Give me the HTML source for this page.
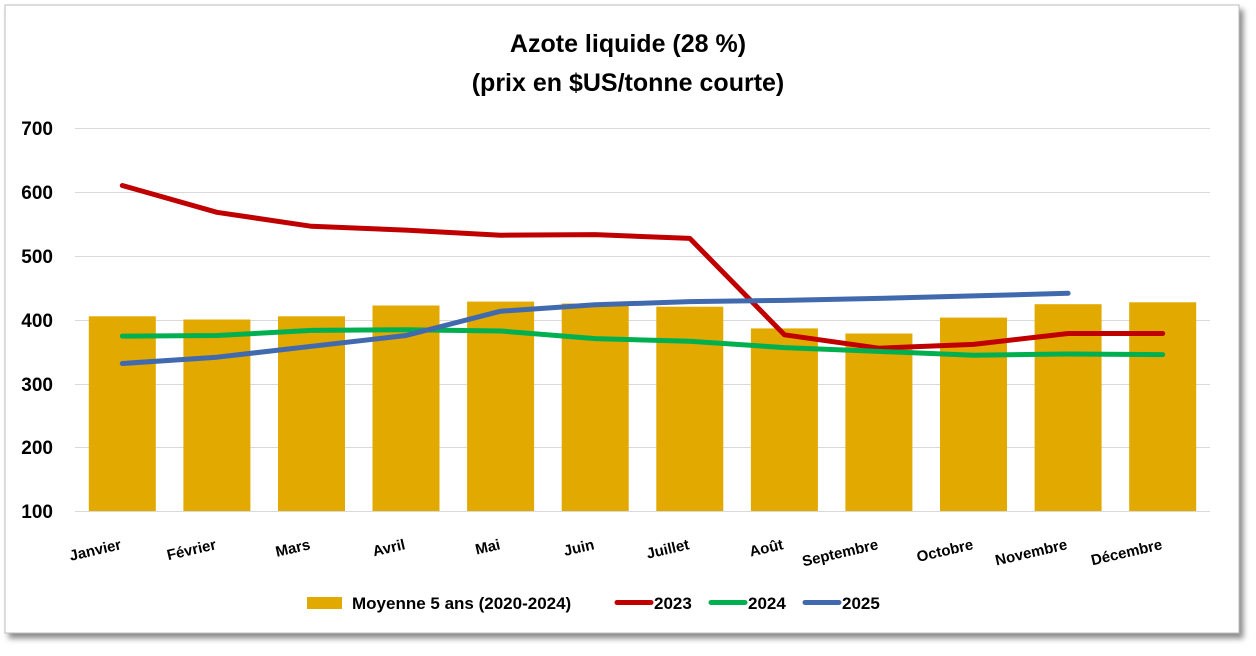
<!DOCTYPE html>
<html><head><meta charset="utf-8"><style>
html,body{margin:0;padding:0;background:#fff;}
svg{display:block;font-family:"Liberation Sans",Calibri,sans-serif;}
</style></head><body>
<svg width="1256" height="656" viewBox="0 0 1256 656" xmlns="http://www.w3.org/2000/svg">
<defs><filter id="sh" x="-5%" y="-5%" width="110%" height="115%"><feDropShadow dx="4" dy="5" stdDeviation="3" flood-color="#000" flood-opacity="0.45"/></filter></defs>
<rect x="5" y="5" width="1234" height="628" fill="#fff" stroke="#bbb" filter="url(#sh)"/>
<text x="628" y="52" text-anchor="middle" font-size="25" font-weight="bold">Azote liquide (28 %)</text>
<text x="628" y="91" text-anchor="middle" font-size="25" font-weight="bold">(prix en $US/tonne courte)</text>
<g stroke="#d9d9d9" stroke-width="1">
<line x1="75" x2="1210" y1="128.5" y2="128.5"/><line x1="75" x2="1210" y1="192.5" y2="192.5"/>
<line x1="75" x2="1210" y1="256.5" y2="256.5"/><line x1="75" x2="1210" y1="320.5" y2="320.5"/>
<line x1="75" x2="1210" y1="384.5" y2="384.5"/><line x1="75" x2="1210" y1="447.5" y2="447.5"/>
<line x1="75" x2="1210" y1="511.5" y2="511.5"/></g>
<g font-size="19" font-weight="bold" text-anchor="end">
<text x="53" y="135">700</text><text x="53" y="199">600</text><text x="53" y="263">500</text>
<text x="53" y="327">400</text><text x="53" y="391">300</text><text x="53" y="454">200</text><text x="53" y="518">100</text></g>
<g fill="#E2A900">
<rect x="88.8" y="316.3" width="67" height="194.7"/><rect x="183.4" y="319.5" width="67" height="191.5"/>
<rect x="278" y="316.3" width="67" height="194.7"/><rect x="372.5" y="305.5" width="67" height="205.5"/>
<rect x="467.1" y="301.6" width="67" height="209.4"/><rect x="561.7" y="303.5" width="67" height="207.5"/>
<rect x="656.3" y="306.7" width="67" height="204.3"/><rect x="750.9" y="328.4" width="67" height="182.6"/>
<rect x="845.4" y="333.5" width="67" height="177.5"/><rect x="940" y="317.6" width="67" height="193.4"/>
<rect x="1034.6" y="304.2" width="67" height="206.8"/><rect x="1129.2" y="302.3" width="67" height="208.7"/></g>
<g fill="none" stroke-width="5" stroke-linejoin="round" stroke-linecap="round">
<polyline stroke="#C00000" points="122.3,185.5 216.9,212.3 311.5,226.3 406,230.1 500.6,235.2 595.2,234.6 689.8,238.4 784.4,334.8 878.9,348.2 973.5,344.4 1068.1,333.5 1162.7,333.5"/>
<polyline stroke="#00B050" points="122.3,336.1 216.9,335.5 311.5,330.4 406,329.7 500.6,331 595.2,338.6 689.8,341.2 784.4,347.6 878.9,351.4 973.5,355.2 1068.1,354 1162.7,354.6"/>
<polyline stroke="#4169AE" points="122.3,363.5 216.9,357.2 311.5,346.3 406,335.5 500.6,311.2 595.2,304.8 689.8,301.6 784.4,300.4 878.9,298.4 973.5,295.9 1068.1,293.3"/>
</g>
<g font-size="15" font-weight="bold" text-anchor="end">
<text transform="translate(122,549) rotate(-13)">Janvier</text>
<text transform="translate(217,549) rotate(-13)">Février</text>
<text transform="translate(311,549) rotate(-13)">Mars</text>
<text transform="translate(406,549) rotate(-13)">Avril</text>
<text transform="translate(501,549) rotate(-13)">Mai</text>
<text transform="translate(595,549) rotate(-13)">Juin</text>
<text transform="translate(690,549) rotate(-13)">Juillet</text>
<text transform="translate(784,549) rotate(-13)">Août</text>
<text transform="translate(879,549) rotate(-13)">Septembre</text>
<text transform="translate(974,549) rotate(-13)">Octobre</text>
<text transform="translate(1068,549) rotate(-13)">Novembre</text>
<text transform="translate(1163,549) rotate(-13)">Décembre</text>
</g>
<rect x="307" y="597" width="35" height="12" fill="#E2A900"/>
<g font-size="17" font-weight="bold">
<text x="352" y="609">Moyenne 5 ans (2020-2024)</text>
<line x1="617" x2="651" y1="602.5" y2="602.5" stroke="#C00000" stroke-width="5" stroke-linecap="round"/>
<text x="654" y="609">2023</text>
<line x1="711" x2="745" y1="602.5" y2="602.5" stroke="#00B050" stroke-width="5" stroke-linecap="round"/>
<text x="748" y="609">2024</text>
<line x1="805" x2="839" y1="602.5" y2="602.5" stroke="#4169AE" stroke-width="5" stroke-linecap="round"/>
<text x="842" y="609">2025</text>
</g>
</svg>
</body></html>
